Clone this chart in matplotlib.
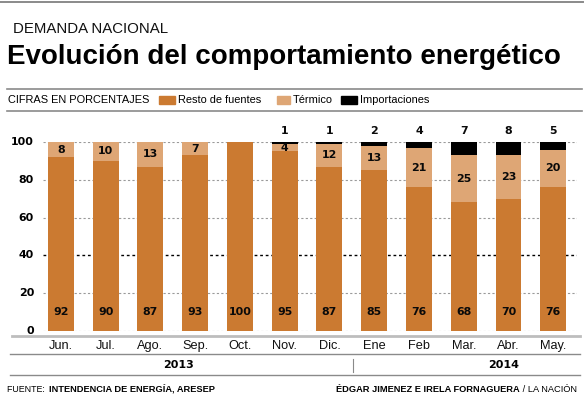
import matplotlib
matplotlib.use("Agg")
import matplotlib.pyplot as plt
from matplotlib.transforms import blended_transform_factory
from matplotlib.lines import Line2D
from matplotlib.patches import Rectangle

months = ["Jun.", "Jul.", "Ago.", "Sep.", "Oct.", "Nov.", "Dic.", "Ene", "Feb", "Mar.", "Abr.", "May."]
resto = [92, 90, 87, 93, 100, 95, 87, 85, 76, 68, 70, 76]
termico = [8, 10, 13, 7, 0, 4, 12, 13, 21, 25, 23, 20]
importaciones = [0, 0, 0, 0, 0, 1, 1, 2, 4, 7, 8, 5]
yticks = [0, 20, 40, 60, 80, 100]
years = ["2013", "2014"]

C_RESTO = "#CB7A31"
C_TERM = "#DEA675"
C_IMP = "#000000"
SANS = ["Liberation Sans", "DejaVu Sans"]
W, H = 584, 396

fig = plt.figure(figsize=(5.84, 3.96), dpi=100)

def fx(px):
    return px / W

def fy(py):
    return 1 - py / H

ax = fig.add_axes([fx(43), fy(331), fx(577) - fx(43), fy(142) - fy(331)])
x = list(range(len(months)))
ax.set_xlim(-0.40, 11.53)
ax.set_ylim(0, 100)
for s in ax.spines.values():
    s.set_visible(False)
ax.set_xticks([])
ax.set_yticks([])

for t in yticks:
    ax.axhline(t, color="#000000" if t == 40 else "#9a9a9a", lw=1.0 if t == 40 else 0.8,
               ls=(0, (2, 2)), zorder=0)
    ax.text(-0.60, t, str(t), ha="right", va="center", fontsize=7.9, fontweight="bold",
            family="DejaVu Sans", clip_on=False)

bw = 0.58
bottom2 = [r for r in resto]
bottom3 = [r + t for r, t in zip(resto, termico)]
ax.bar(x, resto, width=bw, color=C_RESTO, zorder=2)
ax.bar(x, termico, width=bw, bottom=bottom2, color=C_TERM, zorder=2)
ax.bar(x, importaciones, width=bw, bottom=bottom3, color=C_IMP, zorder=2)

lab_kw = dict(ha="center", va="center", fontsize=7.9, fontweight="bold", family="DejaVu Sans",
              color="#0a0a0a", clip_on=False, zorder=5)
for i in x:
    ax.text(i, 10, str(resto[i]), **lab_kw)
    if termico[i] > 0:
        ax.text(i, resto[i] + termico[i] / 2, str(termico[i]), **lab_kw)
    if importaciones[i] > 0:
        ax.text(i, 106, str(importaciones[i]), **lab_kw)

tr = blended_transform_factory(ax.transData, fig.transFigure)
for i, m in enumerate(months):
    ax.text(i, fy(346), m, transform=tr, ha="center", va="center", fontsize=9.2,
            family=SANS, color="#111111")
ax.text(2.62, fy(365), years[0], transform=tr, ha="center", va="center", fontsize=8,
        fontweight="bold", family="DejaVu Sans")
ax.text(9.88, fy(365), years[1], transform=tr, ha="center", va="center", fontsize=8,
        fontweight="bold", family="DejaVu Sans")

def hline(py, x0, x1, color="#8a8a8a", lw=1.0):
    fig.add_artist(Line2D([fx(x0), fx(x1)], [fy(py), fy(py)], color=color, lw=lw,
                          transform=fig.transFigure))

hline(2, 0, 583, lw=1.4)
hline(89, 7, 582, lw=1.2)
hline(111, 7, 582, lw=1.2)
hline(336, 12, 580, color="#bdbdbd", lw=2.0)
hline(354, 10, 580, lw=1.0)
hline(375, 10, 580, lw=1.0)
fig.add_artist(Line2D([fx(353), fx(353)], [fy(359), fy(372)], color="#8a8a8a", lw=0.8,
                      transform=fig.transFigure))

fig.text(fx(13), fy(29), "DEMANDA NACIONAL", fontsize=10.8, family=SANS, va="center",
         ha="left", color="#111111")
fig.text(fx(7), fy(57), "Evolución del comportamiento energético", fontsize=20,
         fontweight="bold", family=SANS, va="center", ha="left")

# legend row
fig.text(fx(8), fy(100), "CIFRAS EN PORCENTAJES", fontsize=7.9, family=SANS, va="center", ha="left")
leg = [(159, 175, 178, C_RESTO, "Resto de fuentes"),
       (277, 290, 293, C_TERM, "Térmico"),
       (341, 357, 360, C_IMP, "Importaciones")]
for p0, p1, tx, c, lab in leg:
    fig.add_artist(Rectangle((fx(p0), fy(104)), fx(p1 - p0), fy(96) - fy(104), color=c,
                             transform=fig.transFigure))
    fig.text(fx(tx), fy(100), lab, fontsize=7.9, family=SANS, va="center", ha="left")

fig.canvas.draw()
r = fig.canvas.get_renderer()
FW = fig.dpi * 5.84

# footer left
t1 = fig.text(fx(7), fy(389), "FUENTE: ", fontsize=6.4, family=SANS, va="center", ha="left")
bb = t1.get_window_extent(r)
fig.text(bb.x1 / FW + fx(2), fy(389), "INTENDENCIA DE ENERGÍA, ARESEP", fontsize=6.7,
         fontweight="bold", family=SANS, va="center", ha="left")
# footer right
t2 = fig.text(fx(577), fy(389), " / LA NACIÓN", fontsize=6.7, family=SANS, va="center", ha="right")
bb2 = t2.get_window_extent(r)
fig.text(bb2.x0 / FW, fy(389), "ÉDGAR JIMENEZ E IRELA FORNAGUERA", fontsize=6.7,
         fontweight="bold", family=SANS, va="center", ha="right")

fig.savefig("out.png", dpi=100)
